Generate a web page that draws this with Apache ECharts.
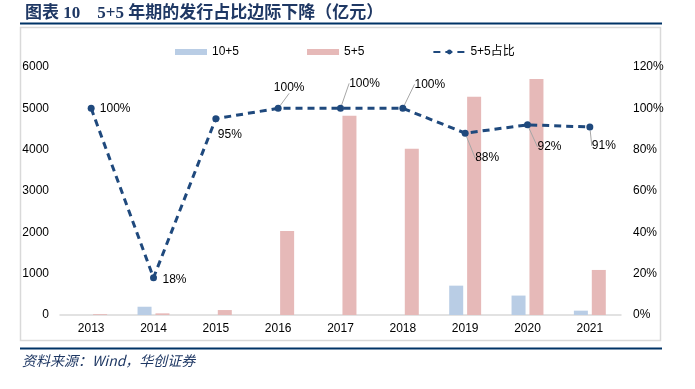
<!DOCTYPE html>
<html><head><meta charset="utf-8">
<script src="https://cdn.jsdelivr.net/npm/echarts@6/dist/echarts.min.js"></script>
<style>html,body{margin:0;padding:0;background:#fff}#c{width:695px;height:389px}</style>
</head><body><div id="c"></div>
<script>
var categories = ['2013','2014','2015','2016','2017','2018','2019','2020','2021'];
var tenPlusFive = [0, 200, 0, 0, 0, 0, 710, 470, 105];
var fivePlusFive = [20, 40, 120, 2030, 4820, 4020, 5280, 5710, 1090];
var fiveShare = [100, 18, 95, 100, 100, 100, 88, 92, 91];
var leftTicks = [0, 1000, 2000, 3000, 4000, 5000, 6000];
var rightTicks = [0, 20, 40, 60, 80, 100, 120];

var labelOffsets = [[24,0],[21,2],[14,16],[11,-21],[24,-25],[27,-24],[22,25],[22,22],[14,19]];
var showLeader = [false,false,false,true,true,true,true,true,true];

var chart = echarts.init(document.getElementById('c'), null, {renderer:'canvas'});
var navy = '#1f3864';
var axisFont = {color:'#000', fontSize:12, fontFamily:'Liberation Sans, Arial, sans-serif'};
chart.setOption({
  animation:false,
  title:{text:'图表 10    5+5 年期的发行占比边际下降（亿元）', left:20, top:0,
    textStyle:{fontSize:17, fontWeight:'bold', color:navy, fontFamily:'Liberation Serif, "Noto Sans CJK SC", serif'}},
  graphic:[
    {type:'line', shape:{x1:20,y1:23.5,x2:662,y2:23.5}, style:{stroke:'#003366', lineWidth:2}},
    {type:'rect', shape:{x:20.5,y:27.5,width:640,height:313}, style:{fill:'none', stroke:'#d9d9d9', lineWidth:1.5}},
    {type:'line', shape:{x1:20,y1:348.5,x2:662,y2:348.5}, style:{stroke:'#003366', lineWidth:2}},
    {type:'text', left:22, top:354, style:{text:'资料来源：Wind，华创证券', fill:'#1f3864',
      font:'italic 14px "Noto Sans CJK SC", sans-serif'}}
  ],
  legend:{left:170, top:41, itemGap:68, itemWidth:32, itemHeight:6,
    textStyle:{fontSize:12, color:'#000', fontFamily:'Liberation Sans, "Noto Sans CJK SC", sans-serif'},
    data:[{name:'10+5', icon:'rect'},{name:'5+5', icon:'rect'},{name:'5+5占比'}]},
  grid:{left:60, right:74, top:67, bottom:74},
  xAxis:{type:'category', data:categories,
    axisLine:{lineStyle:{color:'#d9d9d9', width:1.5}}, axisTick:{show:false},
    axisLabel:Object.assign({margin:8}, axisFont)},
  yAxis:[
    {type:'value', min:0, max:6000, interval:1000, splitLine:{show:false},
     axisLine:{show:false}, axisTick:{show:false},
     axisLabel:Object.assign({margin:11, formatter:function(v){return String(v);}}, axisFont)},
    {type:'value', min:0, max:120, interval:20, splitLine:{show:false},
     axisLine:{show:false}, axisTick:{show:false},
     axisLabel:Object.assign({margin:12, formatter:'{value}%'}, axisFont)}
  ],
  series:[
    {name:'10+5', type:'bar', data:tenPlusFive, barWidth:14, barGap:'28%',
     itemStyle:{color:'#b9cde5'}},
    {name:'5+5', type:'bar', data:fivePlusFive, barWidth:14,
     itemStyle:{color:'#e6b9b8'}},
    {name:'5+5占比', type:'line', yAxisIndex:1,
     data:fiveShare.map(function(v,i){return {value:v, labelLine:{show:showLeader[i]}};}),
     symbol:'circle', symbolSize:7,
     lineStyle:{color:'#1f497d', width:3, type:[7,5]},
     itemStyle:{color:'#1f497d'},
     label:{show:true, position:'inside', formatter:'{c}%', color:'#000', fontSize:12,
       fontFamily:'Liberation Sans, Arial, sans-serif'},
     labelLine:{show:true, lineStyle:{color:'#a6a6a6', width:1}},
     labelLayout:function(p){var o=labelOffsets[p.dataIndex]; return {dx:o[0], dy:o[1]};}
    }
  ]
});
</script></body></html>
